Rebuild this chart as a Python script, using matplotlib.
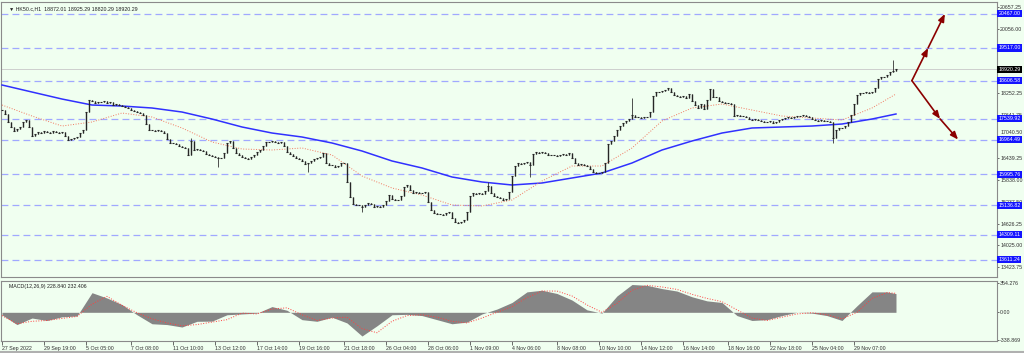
import matplotlib
matplotlib.use("Agg")
import matplotlib.pyplot as plt
import numpy as np
from matplotlib.lines import Line2D

plt.rcParams['font.family'] = ['Liberation Sans', 'DejaVu Sans']

# hourly closes, one per bar
closes = [
    17788, 17677, 17454, 17315, 17203, 17259, 17315, 17454, 17510, 17315,
    17064, 17120, 17175, 17147, 17203, 17175, 17147, 17203, 17175, 17147,
    17175, 17064, 16953, 16980, 17008, 17036, 17147, 17231, 17732, 18067,
    18039, 17983, 18011, 18011, 18039, 17983, 18011, 17927, 17955, 17927,
    17899, 17872, 17844, 17788, 17760, 17732, 17704, 17649, 17398, 17231,
    17231, 17203, 17231, 17203, 17147, 16980, 16869, 16869, 16841, 16785,
    16758, 16730, 16535, 16925, 16674, 16702, 16674, 16646, 16563, 16535,
    16507, 16479, 16451, 16451, 16590, 16869, 16925, 16730, 16590, 16535,
    16479, 16451, 16423, 16479, 16535, 16618, 16674, 16785, 16897, 16897,
    16925, 16897, 16869, 16897, 16785, 16618, 16563, 16507, 16451, 16423,
    16368, 16284, 16312, 16368, 16423, 16451, 16479, 16590, 16312, 16256,
    16256, 16200, 16228, 16312, 16312, 15783, 15365, 15170, 15142, 15142,
    15086, 15142, 15198, 15170, 15086, 15114, 15086, 15142, 15253, 15420,
    15309, 15281, 15281, 15393, 15643, 15699, 15560, 15476, 15504, 15476,
    15476, 15504, 15225, 15003, 14919, 14891, 14891, 14863, 14919, 14947,
    14780, 14668, 14640, 14668, 14724, 14947, 15393, 15476, 15448, 15476,
    15448, 15532, 15671, 15476, 15393, 15365, 15337, 15281, 15309, 15504,
    15950, 16228, 16312, 16284, 16312, 16340, 16256, 16563, 16618, 16590,
    16618, 16590, 16535, 16535, 16535, 16507, 16535, 16563, 16535, 16590,
    16451, 16312, 16256, 16284, 16256, 16228, 16145, 16061, 16033, 16033,
    16061, 16312, 16841, 16925, 17064, 17231, 17342, 17426, 17482, 17537,
    17649, 17593, 17593, 17565, 17593, 17593, 17732, 18178, 18289, 18289,
    18317, 18345, 18401, 18289, 18206, 18178, 18150, 18178, 18122, 18234,
    18039, 17927, 17844, 17955, 17816, 18067, 18373, 18150, 18150, 18039,
    18011, 17983, 17983, 17955, 17621, 17649, 17621, 17621, 17593, 17537,
    17510, 17537, 17510, 17482, 17454, 17454, 17482, 17426, 17454, 17510,
    17537, 17565, 17593, 17565, 17593, 17621, 17621, 17649, 17621, 17593,
    17537, 17510, 17482, 17510, 17482, 17482, 17454, 17008, 17231, 17287,
    17287, 17342, 17454, 17649, 17955, 18206, 18262, 18262, 18289, 18262,
    18289, 18401, 18651, 18707, 18707, 18763, 18847, 18874, 18920.29,
]

# long wicks
spike_bars = [63, 72, 102, 120, 162, 176, 210, 277, 297]
spike_prices = [17008, 16200, 16061, 14947, 15783, 15922, 18122, 16869, 19181]

# moving averages, one value every 10 bars (last one at the final bar)
ma_bars = list(range(0, 300, 10)) + [298]
ma_blue = [18485, 18289, 18094, 17927, 17899, 17844, 17732, 17537, 17315, 17147,
           17036, 16869, 16646, 16368, 16173, 15922, 15783, 15699, 15755, 15894,
           16033, 16312, 16674, 16925, 17147, 17287, 17315, 17342, 17398, 17537, 17677]
ma_red = [17927, 17621, 17342, 17454, 17704, 17593, 17287, 16897, 16702, 16674,
          16730, 16535, 15950, 15615, 15420, 15142, 15114, 15281, 15810, 16228,
          16228, 16730, 17482, 17844, 17955, 17788, 17621, 17565, 17510, 17844, 18234]

# MACD(12,26,9), one value every 5 bars
macd_bars = list(range(0, 300, 5)) + [298]
macd_main = [-31, -150, -70, -100, -55, -45, 240, 175, 95, -30,
             -140, -150, -180, -110, -108, -30, -20, -10, 70, 25,
             -90, -110, -60, -130, -290, -165, -30, -25, -40, -90,
             -140, -120, -20, 40, 120, 250, 270, 230, 150, 30,
             -10, 200, 340, 330, 290, 260, 190, 140, 120, -40,
             -100, -90, -40, 0, -10, -40, -100, 80, 250, 250, 228.84]
macd_signal = [-40, -140, -110, -100, -75, -50, 100, 195, 85, -5,
               -80, -130, -165, -150, -120, -90, -10, -20, 40, 55,
               -30, -100, -70, -60, -200, -250, -110, -40, -30, -60,
               -110, -130, -70, 0, 70, 180, 260, 260, 200, 90,
               0, 110, 270, 330, 310, 280, 220, 170, 130, 30,
               -70, -100, -60, -20, -5, -30, -80, 0, 170, 240, 232.406]

# horizontal levels
levels = [20467.00, 19517.00, 18606.58, 17539.92, 16964.49, 15995.76, 15136.82, 14309.11, 13611.24]
last_price = 18920.29
price_ticks = [20657.25, 20056.00, 18252.25, 17641.75, 16439.25, 15838.00,
               15237.50, 14626.25, 14025.00, 13423.75]
# this one sits right on top of a level box, nudged up a little
squeezed_tick = 17040.50

# drawn arrows (bar, price)
arrow_up_bars = [303.3, 308.7, 314.3]
arrow_up_prices = [18606.58, 19517.00, 20467.00]
arrow_dn_bars = [303.3, 312.7, 318.7]
arrow_dn_prices = [18606.58, 17539.92, 16964.49]

time_bars = [0, 14, 28, 43, 57, 71, 85, 99, 114, 128, 142, 156, 170, 185, 199, 213, 227, 242, 256, 270, 284]
time_labels = ['27 Sep 2022', '29 Sep 19:00', '5 Oct 05:00', '7 Oct 08:00', '11 Oct 10:00',
               '13 Oct 12:00', '17 Oct 14:00', '19 Oct 16:00', '21 Oct 18:00', '26 Oct 04:00',
               '28 Oct 06:00', '1 Nov 09:00', '4 Nov 06:00', '8 Nov 08:00', '10 Nov 10:00',
               '14 Nov 12:00', '16 Nov 14:00', '18 Nov 16:00', '22 Nov 18:00', '25 Nov 04:00',
               '29 Nov 07:00']

BG = '#f0fff0'
FS = 3.8

fig = plt.figure(figsize=(10.24, 3.53), dpi=100, facecolor=BG)
ax = fig.add_axes([1/1024, 1-277/353, 996/1024, 275/353], facecolor=BG)
axm = fig.add_axes([1/1024, 1-341/353, 996/1024, 60/353], facecolor=BG, sharex=ax)

# candles
c = np.array(closes, dtype=float)
idx = np.arange(len(c))
o = np.r_[c[0], c[:-1]]
hi = np.maximum(o, c)
lo = np.minimum(o, c)
for b, p in zip(spike_bars, spike_prices):
    hi[b] = max(hi[b], p)
    lo[b] = min(lo[b], p)
ax.vlines(idx, lo, hi, color='#333333', lw=0.6, zorder=4)
ax.vlines(idx, np.minimum(o, c), np.maximum(o, c), color='#262626', lw=1.0, zorder=4)
ax.plot(idx, c, ls='none', marker='_', ms=2.0, mew=0.8, color='#262626', zorder=4)

ax.plot(ma_bars, ma_blue, color='#3030ff', lw=1.1, zorder=3)
ax.plot(ma_bars, ma_red, color='#f07860', lw=0.7, ls=':', zorder=3)

for lv in levels:
    ax.axhline(lv, color='#a0a8ff', lw=0.9, ls=(0, (5.5, 3.3)), zorder=1)
    ax.text(1.0015, lv, f'{lv:.2f}', transform=ax.get_yaxis_transform(), fontsize=FS,
            color='white', va='center', ha='left', zorder=6, clip_on=False,
            bbox=dict(boxstyle='square,pad=0.2', fc='#1414ff', ec='none'))
ax.axhline(last_price, color='#c8c8c8', lw=0.6, zorder=1)
ax.text(1.0015, last_price, f'{last_price:.2f}', transform=ax.get_yaxis_transform(),
        fontsize=FS, color='white', va='center', ha='left', zorder=6, clip_on=False,
        bbox=dict(boxstyle='square,pad=0.2', fc='black', ec='none'))

for bars, prices in [(arrow_up_bars, arrow_up_prices), (arrow_dn_bars, arrow_dn_prices)]:
    for k in range(len(bars) - 1):
        ax.annotate('', xy=(bars[k+1], prices[k+1]), xytext=(bars[k], prices[k]),
                    arrowprops=dict(arrowstyle='-|>,head_length=0.45,head_width=0.18',
                                    color='#8b0000', lw=1.2, shrinkA=0, shrinkB=0), zorder=5)

ax.text(0.008, 0.985, '\u25bc HK50.c,H1  18872.01 18925.29 18820.29 18920.29',
        transform=ax.transAxes, fontsize=FS, va='top', ha='left', color='#202020')

ax.set_xlim(-0.33, 331.67)
ax.set_ylim(13136, 20797)
ax.yaxis.tick_right()
ax.set_yticks(price_ticks)
ax.set_yticklabels([f'{v:.2f}' for v in price_ticks])
ax.tick_params(axis='y', length=1.5, pad=0.8, labelsize=FS, colors='#303030', width=0.5)
ax.tick_params(axis='x', bottom=False, labelbottom=False)
ax.annotate(f'{squeezed_tick:.2f}', xy=(1, squeezed_tick), xycoords=ax.get_yaxis_transform(),
            xytext=(2.3, 3.2), textcoords='offset points', fontsize=FS, color='#303030',
            va='center', ha='left', annotation_clip=False)

# MACD panel
axm.fill_between(macd_bars, 0, macd_main, color='#858585', lw=0, zorder=2)
axm.plot(macd_bars, macd_signal, color='#ff4040', lw=0.7, ls=':', zorder=3)
axm.set_ylim(-351, 383)
axm.yaxis.tick_right()
axm.set_yticks([354.276, 0.0, -338.869])
axm.set_yticklabels(['354.276', '0.00', '-338.869'])
axm.tick_params(axis='y', length=1.5, pad=0.8, labelsize=FS, colors='#303030', width=0.5)
axm.set_xticks(time_bars)
axm.set_xticklabels(time_labels)
axm.tick_params(axis='x', length=3, pad=0.8, labelsize=FS, colors='#303030', width=0.5)
for lbl in axm.get_xticklabels():
    lbl.set_ha('left')
axm.text(0.008, 0.95, 'MACD(12,26,9) 228.840 232.406', transform=axm.transAxes,
         fontsize=FS, va='top', ha='left', color='#202020')

for a in (ax, axm):
    for s in a.spines.values():
        s.set_color('#8a8a8a')
        s.set_linewidth(0.8)

fig.add_artist(Line2D([0, 1], [1.5/353, 1.5/353], color='#b0b0b0', lw=1.5))

fig.savefig('out.png', dpi=100, facecolor=BG)
